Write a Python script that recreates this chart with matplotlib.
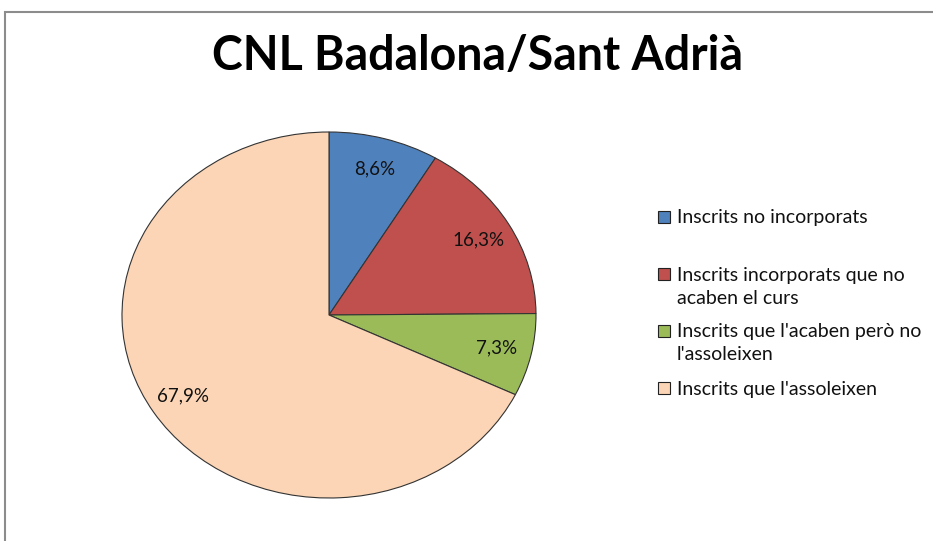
import matplotlib
matplotlib.use('Agg')
import matplotlib.pyplot as plt
from matplotlib.patches import Rectangle

title = 'CNL Badalona/Sant Adrià'
labels = ['Inscrits no incorporats',
          'Inscrits incorporats que no\nacaben el curs',
          "Inscrits que l'acaben però no\nl'assoleixen",
          "Inscrits que l'assoleixen"]
values = [8.6, 16.3, 7.3, 67.9]
colors = ['#4F81BD', '#C0504D', '#9BBB59', '#FBD5B5']

W, H = 933, 541
fig = plt.figure(figsize=(W / 100, H / 100), dpi=100)
plt.rcParams['font.family'] = ['Lato', 'DejaVu Sans']

# outer chart frame (runs past right/bottom edges as in the screenshot)
fig.patches.append(Rectangle((5 / W, -0.05), 1.1, (H - 12) / H + 0.05,
                             transform=fig.transFigure, fill=False,
                             edgecolor='#8c8c8c', linewidth=1.5))

# elliptical pie: axes box sized to the ellipse
pct_labels = ['{:.1f}%'.format(v).replace('.', ',') for v in values]
ax = fig.add_axes([122 / W, (H - 498) / H, 414 / W, 366 / H])
wedges, texts = ax.pie(
    values, colors=colors, startangle=90, counterclock=False,
    labels=pct_labels, labeldistance=0.83,
    wedgeprops=dict(edgecolor='#333333', linewidth=0.8),
    textprops=dict(fontsize=13.5, color='#111111'))
for t in texts:
    t.set_ha('center')
    t.set_va('center')
ax.set_aspect('auto')
ax.set_xlim(-1, 1)
ax.set_ylim(-1, 1)

fig.text(477 / W, 1 - 56 / H, title, ha='center', va='center',
         fontsize=33.5, fontweight='bold', color='#000000')

# legend drawn by hand to keep Excel's spacing
leg_y = [[217], [274, 297], [331, 353], [388]]
for lab, col, ys in zip(labels, colors, leg_y):
    fig.patches.append(Rectangle((658 / W, 1 - (ys[0] + 6) / H), 12 / W, 12 / H,
                                 transform=fig.transFigure, facecolor=col,
                                 edgecolor='#222222', linewidth=0.8))
    for line, y in zip(lab.split('\n'), ys):
        fig.text(677 / W, 1 - (y + 1) / H, line, ha='left', va='center',
                 fontsize=14, color='#111111')

fig.savefig('out.png', dpi=100)
